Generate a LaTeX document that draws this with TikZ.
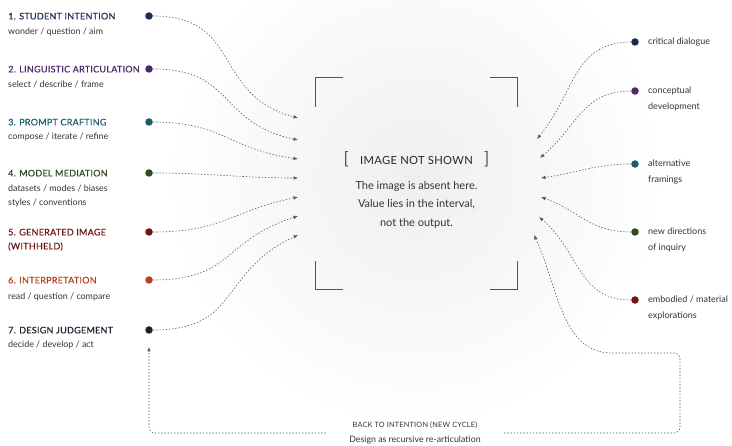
\documentclass[tikz,border=0pt]{standalone}
\usepackage{fontspec}
\usepackage{tikz,xcolor}
\usetikzlibrary{arrows.meta,positioning,calc}
\setmainfont{Lato}
\newfontfamily\capsfont[LetterSpace=3]{Lato}
\newfontfamily\stagefont[LetterSpace=3,FakeBold=0.5]{Lato}
\definecolor{ink}{HTML}{333333}
\definecolor{wire}{HTML}{5A5A5A}
\definecolor{frm}{HTML}{555555}
\definecolor{sA}{HTML}{1B2A55}
\definecolor{sB}{HTML}{4A2A6A}
\definecolor{sC}{HTML}{1E5A6E}
\definecolor{sD}{HTML}{2E4A1E}
\definecolor{sE}{HTML}{6E1414}
\definecolor{sF}{HTML}{B3401A}
\definecolor{sG}{HTML}{1C2230}
\definecolor{haze}{HTML}{EFEFEF}
\tikzset{
  stage/.style={anchor=base west,inner sep=0pt,align=left,font=\stagefont\fontsize{9}{14}\selectfont},
  note/.style={anchor=base west,inner sep=0pt,align=left,text=ink,font=\fontsize{8.9}{14}\selectfont},
  outc/.style={anchor=base west,inner sep=0pt,align=left,text=ink,font=\fontsize{9}{16.5}\selectfont},
  bead/.style={circle,inner sep=0pt,minimum size=7.5pt},
  ar/.style={-{Latex[length=4.5pt,width=3.6pt]},draw=wire,line width=0.6pt,dash pattern=on 1.4pt off 1.8pt},
  brk/.style={draw=frm,line width=1.1pt},
}

\begin{document}
\begin{tikzpicture}[x=1pt,y=1pt]
\useasboundingbox (0,0) rectangle (732,446);
\node[minimum width=201pt,minimum height=211pt,inner sep=0pt] (frame) at (416.5,262.5) {};
\shade[inner color=haze,outer color=white] ($(frame.center)+(-1.5,5.5)$) circle (250);
\draw[brk] ([yshift=-29pt]frame.north west) -- (frame.north west) -- ++(27,0);
\draw[brk] ([yshift=-29pt]frame.north east) -- (frame.north east) -- ++(-27,0);
\draw[brk] ([yshift=28pt]frame.south west) -- (frame.south west) -- ++(27,0);
\draw[brk] ([yshift=28pt]frame.south east) -- (frame.south east) -- ++(-27,0);
\node[anchor=base,inner sep=0pt,text=black!85,font=\capsfont\fontsize{11.2}{12}\selectfont] (hd) at (416.5,281.5)
  {{\fontsize{17}{17}\selectfont\color{frm}[}\quad IMAGE NOT SHOWN\quad{\fontsize{17}{17}\selectfont\color{frm}]}};
\node[anchor=base,inner sep=0pt,align=center,text=ink,font=\fontsize{11}{18.5}\selectfont] (body) at (416.5,219.5)
  {The image is absent here.\\Value lies in the interval,\\not the output.};

\node[stage,text=sA] (t1) at (8,426.6) {1. STUDENT INTENTION};
\node[note] (n1) at (8,411.5) {wonder / question / aim};
\node[stage,text=sB] (t2) at (8,373.6) {2. LINGUISTIC ARTICULATION};
\node[note] (n2) at (8,358.5) {select / describe / frame};
\node[stage,text=sC] (t3) at (8,320.6) {3. PROMPT CRAFTING};
\node[note] (n3) at (8,306) {compose / iterate / refine};
\node[stage,text=sD] (t4) at (8,269.6) {4. MODEL MEDIATION};
\node[note] (n4) at (8,240.5) {datasets / modes / biases\\styles / conventions};
\node[stage,text=sE] (t5) at (8,196.6) {5. GENERATED IMAGE\\(WITHHELD)};
\node[stage,text=sF] (t6) at (8,162.6) {6. INTERPRETATION};
\node[note] (n6) at (8,146.5) {read / question / compare};
\node[stage,text=sG] (t7) at (8,112.6) {7. DESIGN JUDGEMENT};
\node[note] (n7) at (8,98.5) {decide / develop / act};

\node[bead,fill=sA] (d1) at (149,430) {};
\node[bead,fill=sB] (d2) at (149,377) {};
\node[bead,fill=sC] (d3) at (149,324) {};
\node[bead,fill=sD] (d4) at (149,273) {};
\node[bead,fill=sE] (d5) at (149,214) {};
\node[bead,fill=sF] (d6) at (149,166) {};
\node[bead,fill=sG] (d7) at (149,116) {};
\coordinate (i1) at (298,328);
\coordinate (i2) at (298,306);
\coordinate (i3) at (298,287);
\coordinate (i4) at (298,268);
\coordinate (i5) at (298,249);
\coordinate (i6) at (298,230);
\coordinate (i7) at (298,211);
\draw[ar] (d1) to[out=0,in=165,looseness=1.3] (i1);
\draw[ar] (d2) to[out=0,in=168,looseness=1.3] (i2);
\draw[ar] (d3) to[out=0,in=172,looseness=1.2] (i3);
\draw[ar] (d4) to[out=0,in=180] (i4);
\draw[ar] (d5) to[out=0,in=192,looseness=1.2] (i5);
\draw[ar] (d6) to[out=0,in=198,looseness=1.3] (i6);
\draw[ar] (d7) to[out=0,in=205,looseness=1.3] (i7);

\node[bead,fill=sA] (r1) at (635,404) {};
\node[bead,fill=sB] (r2) at (635,355) {};
\node[bead,fill=sC] (r3) at (635,282) {};
\node[bead,fill=sD] (r4) at (635,214) {};
\node[bead,fill=sE] (r5) at (635,146) {};
\node[outc] (o1) at (648,401.7) {critical dialogue};
\node[outc] (o2) at (648,336.2) {conceptual\\development};
\node[outc] (o3) at (648,263.2) {alternative\\framings};
\node[outc] (o4) at (648,195.2) {new directions\\of inquiry};
\node[outc] (o5) at (648,127.2) {embodied / material\\explorations};
\coordinate (e1) at (537,307);
\coordinate (e2) at (540,288);
\coordinate (e3) at (541,268);
\coordinate (e4) at (541,249);
\coordinate (e5) at (539,229);
\coordinate (e6) at (534,211);
\draw[ar] (r1) to[out=180,in=50,looseness=1.1] (e1);
\draw[ar] (r2) to[out=180,in=40,looseness=1.1] (e2);
\draw[ar] (r3) to[out=180,in=8] (e3);
\draw[ar] (r4) to[out=180,in=-20,looseness=1.1] (e4);
\draw[ar] (r5) to[out=180,in=-40,looseness=1.1] (e5);

\node[align=center,inner sep=0pt,minimum width=178pt,text=ink,font=\fontsize{8.8}{15}\selectfont] (back) at (415,13)
  {{\capsfont\fontsize{7.3}{15}\selectfont BACK TO INTENTION (NEW CYCLE)}\\Design as recursive re-articulation};
\coordinate (up7) at (149,99);
\coordinate (bend) at (680,93);
\draw[ar,rounded corners=6pt] (back.west) -| (up7);
\draw[ar,rounded corners=6pt] (back.east) -| (bend) -- (618,93) to[out=180,in=-65] (e6);
\end{tikzpicture}
\end{document}
